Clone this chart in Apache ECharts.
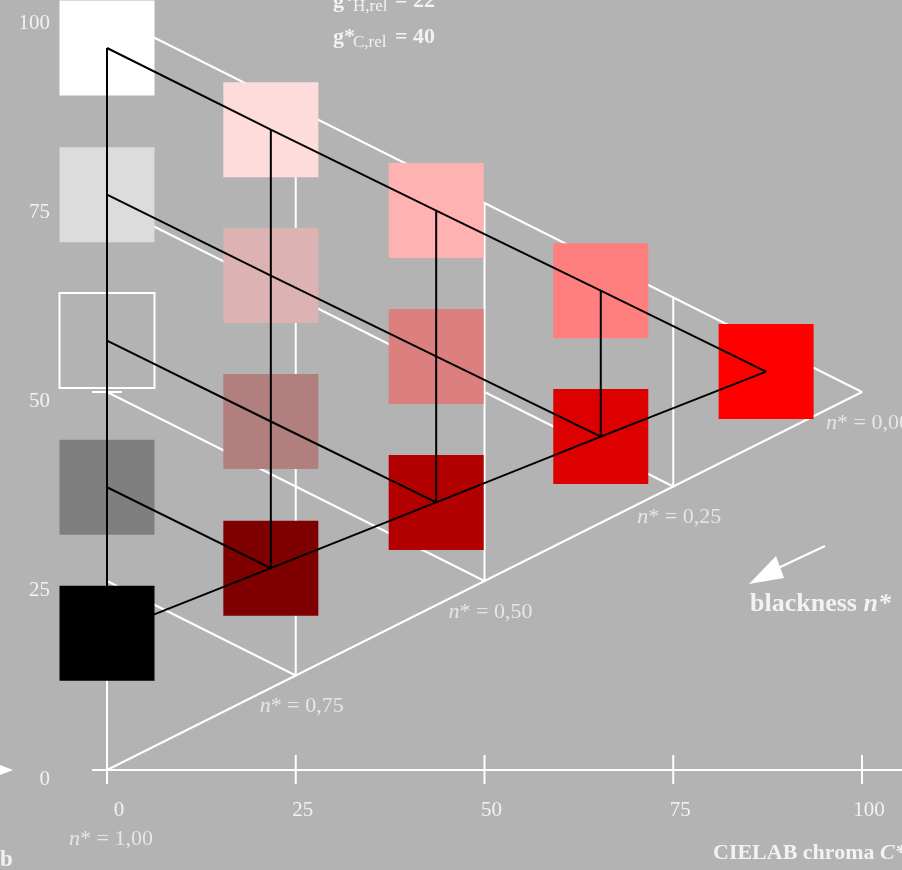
<!DOCTYPE html>
<html>
<head>
<meta charset="utf-8">
<script src="https://cdn.jsdelivr.net/npm/echarts@6/dist/echarts.min.js"></script>
<style>
  html, body { margin: 0; padding: 0; background: #b3b3b3; }
  #chart { width: 902px; height: 870px; }
</style>
</head>
<body>
<div id="chart"></div>
<script>
// CIELAB chroma C* and lightness L* of the 15 colour samples (column by column)
const sampleChroma = [0, 0, 0, 0, 0, 21.7, 21.7, 21.7, 21.7, 43.6, 43.6, 43.6, 65.4, 65.4, 87.3];
const sampleLightness = [95.5, 76.1, 56.8, 37.4, 18.1, 84.7, 65.4, 46.1, 26.7, 74.0, 54.7, 35.4, 63.4, 44.1, 52.7];
const sampleColors = [
  '#ffffff', '#dcdcdc', '#b3b3b3', '#7f7f7f', '#000000',
  '#ffdcdc', '#dcb2b2', '#b27f7f', '#7f0000',
  '#ffb2b2', '#dc7f7f', '#b20000',
  '#ff7f7f', '#dc0000',
  '#ff0000'
];
// black connecting lines, as chains of sample indices
const blackPaths = [
  [0, 5, 9, 12, 14], [4, 8, 11, 13, 14],
  [1, 6, 10, 13], [2, 7, 11], [3, 8],
  [0, 1, 2, 3, 4], [5, 6, 7, 8], [9, 10, 11], [12, 13]
];
// blackness levels n* of the white reference frame and their labels
const blacknessLevels = [0, 0.25, 0.5, 0.75, 1];
const blacknessLabels = ['0,00', '0,25', '0,50', '0,75', '1,00'];
// axis ticks
const xTickValues = [0, 25, 50, 75, 100];
const yTickValues = [0, 25, 50, 75, 100];
const yTickMarks = [50];

const FONT = '"Liberation Serif", "Times New Roman", serif';
const TXT = '#f2f2f2';
const BG = '#b3b3b3';

const chart = echarts.init(document.getElementById('chart'));

// white frame: outer triangle plus one chroma/blackness corner per inner level
const frameSeries = [];
frameSeries.push([[0, 100], [100, 50], [0, 0]]);
blacknessLevels.filter(n => n > 0 && n < 1).forEach(n => {
  const c = 100 * (1 - n);
  frameSeries.push([[0, c], [c, c / 2], [c, 100 - c / 2]]);
});

const series = [];

// axis lines and ticks (ticks cross the axis)
series.push({
  type: 'custom',
  z: 1,
  silent: true,
  clip: false,
  data: [0],
  renderItem: function (params, api) {
    const o = api.coord([0, 0]);
    const top = api.coord([0, 100]);
    const children = [];
    const ls = { stroke: '#ffffff', lineWidth: 2 };
    children.push({ type: 'line', shape: { x1: o[0] - 15, y1: o[1], x2: api.getWidth(), y2: o[1] }, style: ls });
    children.push({ type: 'line', shape: { x1: o[0], y1: o[1], x2: top[0], y2: top[1] }, style: ls });
    xTickValues.forEach(v => {
      const p = api.coord([v, 0]);
      children.push({ type: 'line', shape: { x1: p[0], y1: p[1] - 15, x2: p[0], y2: p[1] + 14 }, style: ls });
    });
    yTickMarks.forEach(v => {
      const p = api.coord([0, v]);
      children.push({ type: 'line', shape: { x1: p[0] - 15, y1: p[1], x2: p[0] + 15, y2: p[1] }, style: ls });
    });
    return { type: 'group', children: children };
  }
});

frameSeries.forEach(pts => {
  series.push({
    type: 'line', data: pts, symbol: 'none', z: 2, silent: true,
    lineStyle: { color: '#ffffff', width: 2 }, clip: false
  });
});

// colour samples
series.push({
  type: 'scatter',
  z: 3,
  symbol: 'rect',
  symbolSize: 95,
  silent: true,
  data: sampleChroma.map((c, i) => ({
    value: [c, sampleLightness[i]],
    itemStyle: sampleColors[i] === BG
      ? { color: BG, borderColor: '#ffffff', borderWidth: 2, opacity: 1 }
      : { color: sampleColors[i], opacity: 1 }
  }))
});

blackPaths.forEach(path => {
  series.push({
    type: 'line', z: 4, symbol: 'none', silent: true,
    data: path.map(i => [sampleChroma[i], sampleLightness[i]]),
    lineStyle: { color: '#000000', width: 2 }
  });
});

// n* labels at the lower corners of the frame
series.push({
  type: 'scatter',
  z: 5,
  symbolSize: 0,
  silent: true,
  clip: false,
  data: blacknessLevels.map((n, i) => ({
    value: [100 * (1 - n), 50 * (1 - n)],
    name: blacknessLabels[i],
    label: { offset: n === 1 ? [4, 69] : [6, 31] }
  })),
  label: {
    show: true,
    position: 'inside',
    formatter: p => '{i|n}{r|* = ' + p.name + '}',
    rich: {
      i: { fontFamily: FONT, fontSize: 22, fontStyle: 'italic', color: TXT },
      r: { fontFamily: FONT, fontSize: 22, color: TXT }
    }
  }
});

const bold = (size) => ({ fontFamily: FONT, fontSize: size, fontWeight: 'bold', fill: TXT });
const boldItalic = (size) => ({ fontFamily: FONT, fontSize: size, fontWeight: 'bold', fontStyle: 'italic', fill: TXT });

// text elements of the title block g*_{H,rel} / g*_{C,rel}
function titleLine(y, sub, value) {
  return [
    { type: 'text', x: 333, y: y, z: 10, silent: true,
      style: Object.assign({ text: 'g*', verticalAlign: 'middle' }, bold(22)) },
    { type: 'text', x: 353, y: y + 6, z: 10, silent: true,
      style: { text: sub, fontFamily: FONT, fontSize: 17, fill: TXT, verticalAlign: 'middle' } },
    { type: 'text', x: 395, y: y, z: 10, silent: true,
      style: Object.assign({ text: '= ' + value, verticalAlign: 'middle' }, bold(22)) }
  ];
}

chart.setOption({
  backgroundColor: BG,
  animation: false,
  grid: { left: 107, top: 14, width: 755, height: 756 },
  xAxis: {
    type: 'value', min: 0, max: 100, interval: 25,
    axisLine: { show: false }, axisTick: { show: false }, splitLine: { show: false },
    axisLabel: {
      color: TXT, fontFamily: FONT, fontSize: 21, margin: 30, padding: [0, 0, 0, 14],
      formatter: v => (xTickValues.includes(v) ? (v === 0 ? '{z|0}' : String(v)) : ''),
      rich: { z: { fontFamily: FONT, fontSize: 21, color: TXT, padding: [0, 0, 0, 10] } }
    }
  },
  yAxis: {
    type: 'value', min: 0, max: 100, interval: 25,
    axisLine: { show: false }, axisTick: { show: false }, splitLine: { show: false },
    axisLabel: {
      color: TXT, fontFamily: FONT, fontSize: 21, margin: 57,
      verticalAlign: 'top', lineHeight: 18,
      formatter: v => (yTickValues.includes(v) ? String(v) : '')
    }
  },
  series: series,
  graphic: [].concat(
    titleLine(1, 'H,rel', '22'),
    titleLine(37, 'C,rel', '40'),
    [
      { type: 'text', x: 750, y: 604, z: 10, silent: true,
        style: { text: '{b|blackness }{i|n*}', verticalAlign: 'middle', rich: { b: bold(26), i: boldItalic(26) } } },
      { type: 'text', x: 713, y: 853, z: 10, silent: true,
        style: { text: '{b|CIELAB chroma }{i|C*}', verticalAlign: 'middle', rich: { b: bold(22), i: boldItalic(22) } } },
      { type: 'text', x: 0, y: 860, z: 10, silent: true,
        style: Object.assign({ text: 'b', verticalAlign: 'middle' }, bold(23)) },
      // arrow pointing towards higher blackness
      { type: 'polyline', z: 10, silent: true,
        shape: { points: [[825, 546], [776, 569]] }, style: { stroke: '#ffffff', lineWidth: 2 } },
      { type: 'polygon', z: 10, silent: true,
        shape: { points: [[749, 584], [776, 556], [784, 578]] }, style: { fill: '#ffffff' } },
      // arrowhead entering along the chroma axis
      { type: 'polygon', z: 10, silent: true,
        shape: { points: [[0, 765], [13, 770], [0, 775]] }, style: { fill: '#ffffff' } }
    ]
  )
});
</script>
</body>
</html>
